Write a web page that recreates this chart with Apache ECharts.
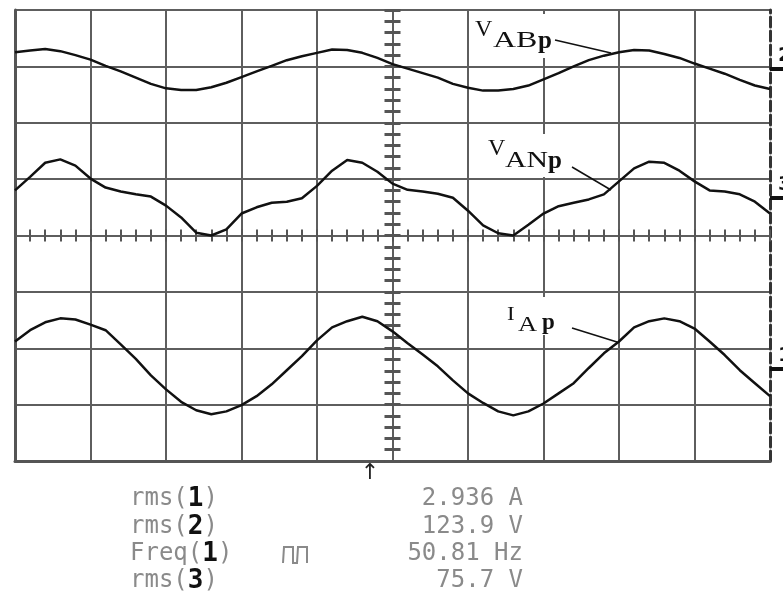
<!DOCTYPE html>
<html>
<head>
<meta charset="utf-8">
<script src="https://cdn.jsdelivr.net/npm/echarts@6/dist/echarts.min.js"></script>
<style>
  html, body { margin: 0; padding: 0; background: #fff; }
  #main { width: 783px; height: 595px; }
</style>
</head>
<body>
<div id="main"></div>
<script>
// time in ms (5 ms/div), trace values in screen divisions
var timeMs = [-25, -24, -23, -22, -21, -20, -19, -18, -17, -16, -15, -14, -13, -12, -11, -10, -9, -8, -7, -6, -5, -4, -3, -2, -1,
  0, 1, 2, 3, 4, 5, 6, 7, 8, 9, 10, 11, 12, 13, 14, 15, 16, 17, 18, 19, 20, 21, 22, 23, 24, 25];

var vabDiv = [3.25, 3.28, 3.31, 3.27, 3.20, 3.12, 3.01, 2.91, 2.80, 2.69, 2.61, 2.58, 2.58, 2.63, 2.71, 2.81, 2.91, 3.01, 3.11, 3.18, 3.24, 3.30, 3.29, 3.24, 3.15,
  3.04, 2.96, 2.88, 2.80, 2.69, 2.62, 2.57, 2.57, 2.60, 2.66, 2.77, 2.88, 3.00, 3.11, 3.19, 3.25, 3.29, 3.28, 3.22, 3.15, 3.05, 2.96, 2.87, 2.76, 2.66, 2.60];

var vanDiv = [0.80, 1.04, 1.29, 1.35, 1.24, 1.01, 0.85, 0.78, 0.73, 0.69, 0.53, 0.32, 0.05, 0.00, 0.11, 0.39, 0.50, 0.58, 0.60, 0.66, 0.88, 1.15, 1.34, 1.29, 1.13,
  0.92, 0.81, 0.78, 0.74, 0.67, 0.44, 0.18, 0.04, 0.00, 0.19, 0.39, 0.52, 0.58, 0.64, 0.73, 0.96, 1.19, 1.31, 1.29, 1.15, 0.96, 0.80, 0.78, 0.73, 0.60, 0.39];

var iaDiv = [-1.88, -1.68, -1.54, -1.47, -1.49, -1.58, -1.68, -1.93, -2.19, -2.48, -2.73, -2.95, -3.10, -3.17, -3.12, -3.01, -2.85, -2.64, -2.39, -2.14, -1.86, -1.63, -1.52, -1.44, -1.52,
  -1.70, -1.91, -2.11, -2.32, -2.57, -2.80, -2.97, -3.12, -3.19, -3.12, -2.98, -2.80, -2.62, -2.35, -2.09, -1.88, -1.63, -1.52, -1.47, -1.52, -1.65, -1.88, -2.12, -2.39, -2.62, -2.85];

// channel ground markers on the right edge
var groundLevels = [2.96, 0.67, -2.37];
var groundNames = ['2', '3', '1'];

// measurement readout
var readName = ['rms', 'rms', 'Freq', 'rms'];
var readChan = ['1', '2', '1', '3'];
var readValue = ['2.936 A', '123.9 V', '50.81 Hz', '75.7 V'];

function pairs(ys) {
  var out = [];
  for (var i = 0; i < timeMs.length; i++) out.push([timeMs[i], ys[i]]);
  return out;
}

var gridColor = '#5e5e5e';
var traceStyle = { color: '#111', width: 2.5 };
var mono = 'DejaVu Sans Mono';
var serif = 'Liberation Serif';

var chartDom = document.getElementById('main');
var myChart = echarts.init(chartDom, null, { renderer: 'canvas' });

var graphics = [];

// label boxes + leaders; part = [text, x, y, size, bold, scaleX]
function addLabel(box, parts, leader) {
  graphics.push({ type: 'rect', z: 10, shape: box, style: { fill: '#fff' } });
  parts.forEach(function (p) {
    graphics.push({
      type: 'text', z: 11, x: p[1], y: p[2], scaleX: p[5] || 1,
      style: {
        text: p[0], fill: '#111', fontFamily: serif, fontSize: p[3],
        fontWeight: p[4] ? 'bold' : 'normal', textVerticalAlign: 'middle'
      }
    });
  });
  graphics.push({
    type: 'line', z: 11,
    shape: { x1: leader[0], y1: leader[1], x2: leader[2], y2: leader[3] },
    style: { stroke: '#111', lineWidth: 1.5 }
  });
}

addLabel({ x: 472, y: 14, width: 82, height: 44 },
  [['V', 475, 30, 24], ['AB', 493, 41, 24, false, 1.33], ['p', 538, 42, 25, true]],
  [555, 40, 611, 53]);
addLabel({ x: 486, y: 134, width: 82, height: 43 },
  [['V', 488, 149, 24], ['AN', 505, 161, 24, false, 1.24], ['p', 548, 162, 25, true]],
  [572, 167, 611, 190]);
addLabel({ x: 500, y: 297, width: 68, height: 38 },
  [['I', 507, 315, 19, false, 1.2], ['A', 518, 325, 22, false, 1.2], ['p', 542, 323, 23, true]],
  [572, 328, 617, 342]);

// readout rows
var rowY = [499, 527, 554, 581];
for (var i = 0; i < readName.length; i++) {
  graphics.push({
    type: 'text', x: 130, y: rowY[i],
    style: {
      text: readName[i] + '({b|' + readChan[i] + '})',
      fill: '#8a8a8a', fontFamily: mono, fontSize: 24, textVerticalAlign: 'middle',
      rich: { b: { fill: '#111', fontFamily: mono, fontSize: 26, fontWeight: 'bold' } }
    }
  });
  graphics.push({
    type: 'text', x: 523, y: rowY[i],
    style: {
      text: readValue[i], fill: '#8a8a8a', fontFamily: mono, fontSize: 24,
      textAlign: 'right', textVerticalAlign: 'middle'
    }
  });
}
// pulse icon next to Freq(1)
graphics.push({
  type: 'polyline',
  shape: { points: [[283, 563], [284, 547], [293, 547], [293, 563], [297, 563], [298, 547], [307, 547], [307, 563]] },
  style: { stroke: '#8a8a8a', lineWidth: 2, fill: null }
});
// trigger position arrow
graphics.push({
  type: 'text', x: 370, y: 473,
  style: { text: '↑', fill: '#222', fontFamily: 'DejaVu Sans', fontSize: 22, textAlign: 'center', textVerticalAlign: 'middle' }
});

var option = {
  animation: false,
  backgroundColor: '#fff',
  grid: { left: 15, right: 13, top: 10, bottom: 134, containLabel: false, outerBoundsMode: 'none' },
  xAxis: [
    {
      type: 'value', min: -25, max: 25, interval: 5, position: 'bottom',
      axisLine: { show: true, onZero: false, lineStyle: { color: '#555', width: 3 } },
      axisTick: { show: false }, axisLabel: { show: false },
      splitLine: { show: true, showMaxLine: false, lineStyle: { color: gridColor, width: 2 } }
    },
    {
      type: 'value', min: -25, max: 25, interval: 1, position: 'bottom',
      axisLine: { show: true, onZero: true, onZeroAxisIndex: 0, lineStyle: { color: gridColor, width: 2 } },
      axisTick: { show: true, length: 6, lineStyle: { color: '#555', width: 2 } },
      axisLabel: { show: false }, splitLine: { show: false }
    },
    {
      type: 'value', min: -25, max: 25, interval: 1, position: 'top',
      axisLine: { show: true, onZero: true, onZeroAxisIndex: 0, lineStyle: { color: gridColor, width: 2 } },
      axisTick: { show: true, length: 6, lineStyle: { color: '#555', width: 2 } },
      axisLabel: { show: false }, splitLine: { show: false }
    }
  ],
  yAxis: [
    {
      type: 'value', min: -4, max: 4, interval: 1, position: 'left',
      axisLine: { show: true, onZero: false, lineStyle: { color: '#555', width: 3 } },
      axisTick: { show: false }, axisLabel: { show: false },
      splitLine: { show: true, lineStyle: { color: gridColor, width: 2 } }
    },
    {
      type: 'value', min: -4, max: 4, interval: 0.2, position: 'left',
      axisLine: { show: true, onZero: true, onZeroAxisIndex: 0, lineStyle: { color: gridColor, width: 2 } },
      axisTick: { show: true, length: 8, lineStyle: { color: '#555', width: 3 } },
      axisLabel: { show: false }, splitLine: { show: false }
    },
    {
      type: 'value', min: -4, max: 4, interval: 0.2, position: 'right',
      axisLine: { show: true, onZero: true, onZeroAxisIndex: 0, lineStyle: { color: gridColor, width: 2 } },
      axisTick: { show: true, length: 8, lineStyle: { color: '#555', width: 3 } },
      axisLabel: { show: false }, splitLine: { show: false }
    },
    {
      type: 'value', min: -4, max: 4, position: 'right',
      axisLine: { show: true, onZero: false, lineStyle: { color: '#333', width: 3, type: [10, 4] } },
      axisTick: { show: true, customValues: groundLevels, length: 13, lineStyle: { color: '#111', width: 4 } },
      axisLabel: {
        show: true, customValues: groundLevels, margin: 8, verticalAlign: 'bottom', padding: [0, 0, 3, 0],
        color: '#111', fontFamily: 'DejaVu Sans', fontSize: 20, fontWeight: 'bold',
        formatter: function (v) {
          var k = groundLevels.indexOf(v);
          return k >= 0 ? groundNames[k] : '';
        }
      },
      splitLine: { show: false }
    }
  ],
  series: [
    { name: 'VABp', type: 'line', xAxisIndex: 0, yAxisIndex: 0, showSymbol: false, lineStyle: traceStyle, data: pairs(vabDiv), z: 5 },
    { name: 'VANp', type: 'line', xAxisIndex: 0, yAxisIndex: 0, showSymbol: false, lineStyle: traceStyle, data: pairs(vanDiv), z: 5 },
    { name: 'IAp', type: 'line', xAxisIndex: 0, yAxisIndex: 0, showSymbol: false, lineStyle: traceStyle, data: pairs(iaDiv), z: 5 }
  ],
  graphic: graphics
};

option && myChart.setOption(option);
window.addEventListener('resize', myChart.resize);
</script>
</body>
</html>
